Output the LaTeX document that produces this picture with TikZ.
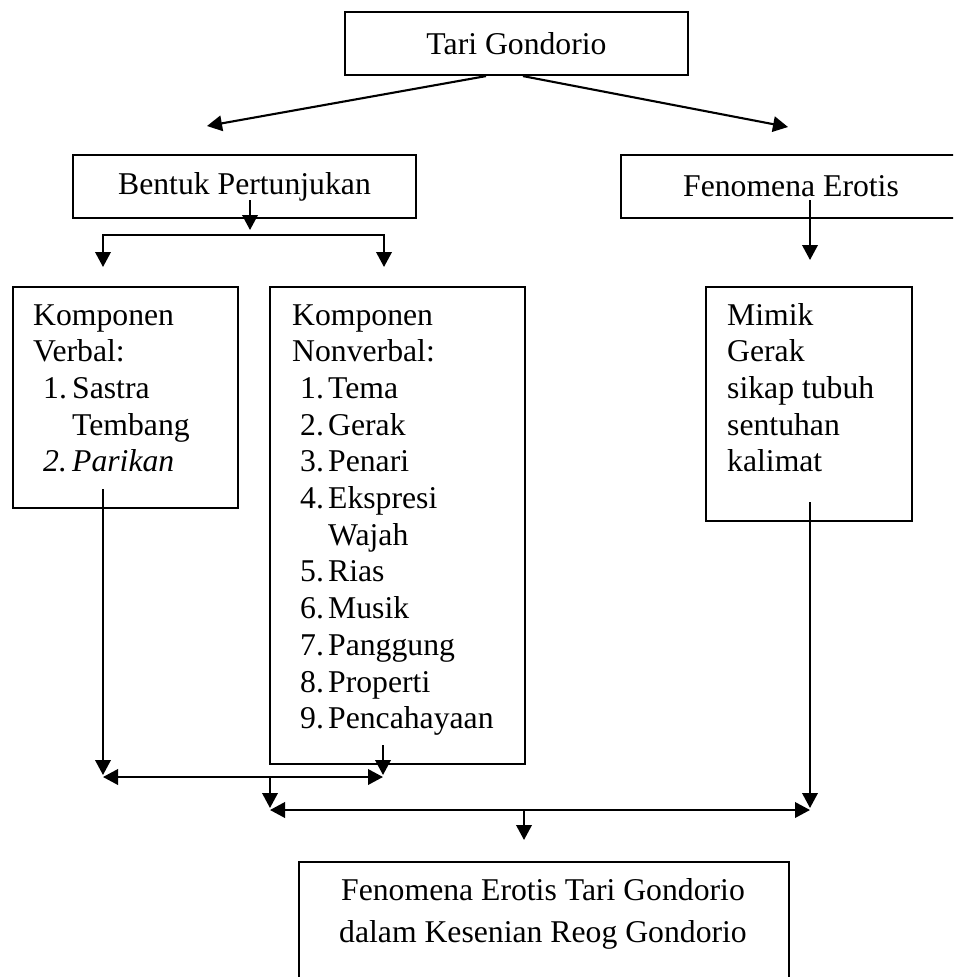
\documentclass[tikz,border=0pt]{standalone}
\usepackage{fontspec}
\setmainfont{Liberation Serif}
\usetikzlibrary{arrows.meta,calc}
\newcommand{\diafont}{\fontsize{31.7}{36.7}\selectfont}
\begin{document}
\begin{tikzpicture}[x=1pt,y=-1pt,
  box/.style={draw, rectangle, inner sep=0pt, line width=2.2pt, font=\diafont},
  txt/.style={inner sep=0pt, font=\diafont},
  arr/.style={-{Triangle[length=15pt,width=15.5pt]}, line width=2.1pt},
  darr/.style={{Triangle[length=15pt,width=15.5pt]}-{Triangle[length=15pt,width=15.5pt]}, line width=2.1pt}]
\clip (0,0) rectangle (953,977);
\fill[white] (0,0) rectangle (953,977);

% boxes
\node[box, minimum width=343pt, minimum height=63pt] (tari) at (516.5,43.5) {Tari Gondorio};
\node[box, minimum width=343pt, minimum height=63pt] (bentuk) at (244.5,186.5) {\raisebox{-1.5pt}{Bentuk Pertunjukan}};
\node[box, minimum width=340pt, minimum height=63pt] (erotis) at (791,186.5) {\raisebox{-1.5pt}{Fenomena Erotis}};
\node[box, anchor=north west, minimum width=225pt, minimum height=221pt] (verbal) at (12,286) {};
\node[box, anchor=north west, minimum width=255pt, minimum height=477pt] (nonverbal) at (269,286) {};
\node[box, anchor=north west, minimum width=206pt, minimum height=234pt] (mimik) at (705,286) {};
\node[box, anchor=north west, minimum width=490pt, minimum height=160pt] (hasil) at (298,861) {};

% texts in boxes
\node[txt, anchor=base west] (verbaltext) at (33,325) {\begin{tabular}[t]{@{}l@{}}Komponen\\
Verbal:\\
\hspace{10pt}\makebox[29pt][l]{1.}Sastra\\
\hspace{39pt}Tembang\\
\hspace{10pt}\textit{\makebox[29pt][l]{2.}Parikan}\end{tabular}};

\node[txt, anchor=base west] (nonverbaltext) at (292,325) {\begin{tabular}[t]{@{}l@{}}Komponen\\
Nonverbal:\\
\hspace{8pt}\makebox[28pt][l]{1.}Tema\\
\hspace{8pt}\makebox[28pt][l]{2.}Gerak\\
\hspace{8pt}\makebox[28pt][l]{3.}Penari\\
\hspace{8pt}\makebox[28pt][l]{4.}Ekspresi\\
\hspace{36pt}Wajah\\
\hspace{8pt}\makebox[28pt][l]{5.}Rias\\
\hspace{8pt}\makebox[28pt][l]{6.}Musik\\
\hspace{8pt}\makebox[28pt][l]{7.}Panggung\\
\hspace{8pt}\makebox[28pt][l]{8.}Properti\\
\hspace{8pt}\makebox[28pt][l]{9.}Pencahayaan\end{tabular}};

\node[txt, anchor=base west] (mimiktext) at (727,325) {\begin{tabular}[t]{@{}l@{}}Mimik\\
Gerak\\
sikap tubuh\\
sentuhan\\
kalimat\end{tabular}};

\node[txt, anchor=base] (hasiltext) at (543,900) {\fontsize{31.7}{42.3}\selectfont\begin{tabular}[t]{@{}c@{}}Fenomena Erotis Tari Gondorio\\
dalam Kesenian Reog Gondorio\end{tabular}};

% coordinates
\coordinate (tl) at ($(tari.south)+(-30.5,0)$);
\coordinate (tr) at ($(tari.south)+(6.5,0)$);
\coordinate (tipL) at (207,126);
\coordinate (tipR) at (788,127);
\coordinate (bs) at (250,200);
\coordinate (bt) at (250,230);
\coordinate (sl) at (103,235);
\coordinate (sr) at (384,235);
\coordinate (vin) at (103,267);
\coordinate (nvin) at (384,267);
\coordinate (es) at (810,200);
\coordinate (et) at (810,260);
\coordinate (vs) at (103,489);
\coordinate (vt) at (103,775);
\coordinate (ns) at (383,745);
\coordinate (nt) at (383,775);
\coordinate (h1l) at (103,777);
\coordinate (h1r) at (383,777);
\coordinate (m1) at (270,777);
\coordinate (m1t) at (270,808);
\coordinate (h2l) at (270,810);
\coordinate (h2r) at (810,810);
\coordinate (ms) at (810,502);
\coordinate (mt) at (810,808);
\coordinate (fs) at (524,810);
\coordinate (ft) at (524,840);

% connectors
\draw[arr] (tl) -- (tipL);
\draw[arr] (tr) -- (tipR);
\draw[arr] (bs) -- (bt);
\draw[darr] (vin) -- (sl) -- (sr) -- (nvin);
\draw[arr] (es) -- (et);
\draw[arr] (vs) -- (vt);
\draw[arr] (ns) -- (nt);
\draw[darr] (h1l) -- (h1r);
\draw[arr] (m1) -- (m1t);
\draw[darr] (h2l) -- (h2r);
\draw[arr] (ms) -- (mt);
\draw[arr] (fs) -- (ft);
\end{tikzpicture}
\end{document}
